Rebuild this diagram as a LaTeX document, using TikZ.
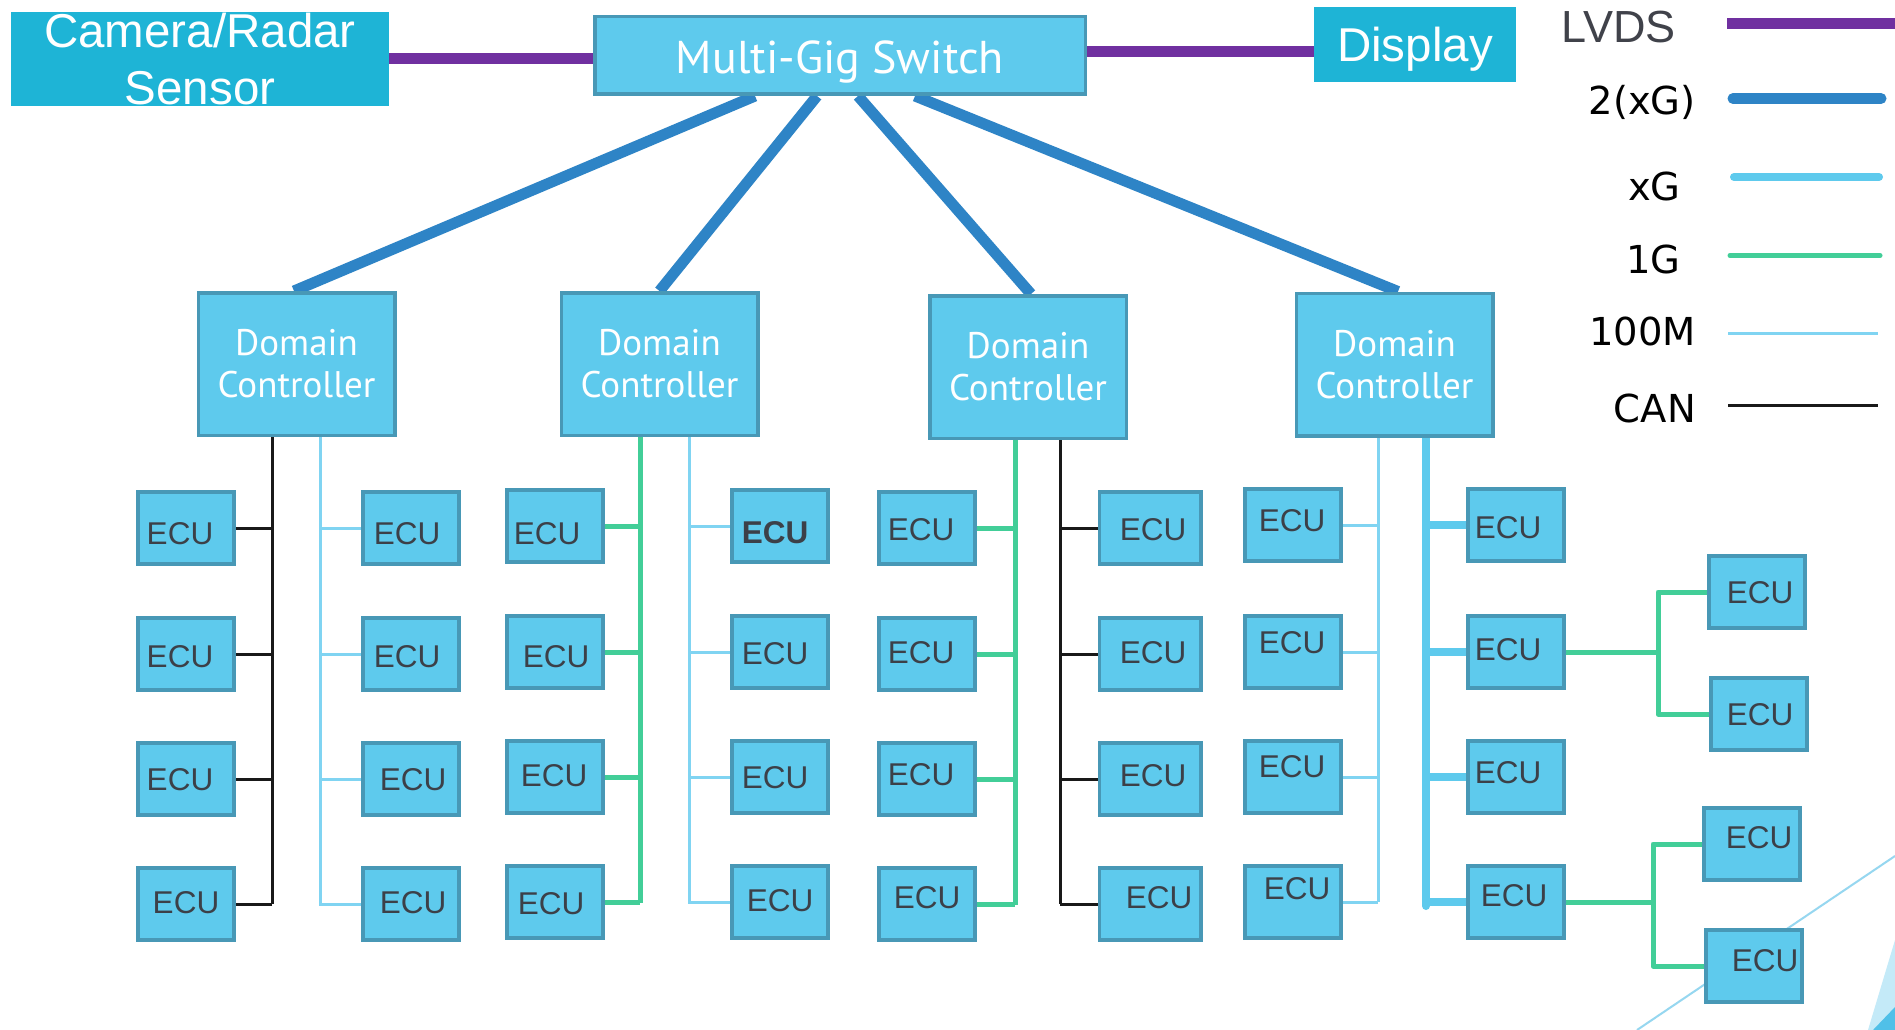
\documentclass[tikz,border=0pt]{standalone}
\usepackage{fontspec}
\setmainfont{Liberation Sans}
\newfontfamily\ptsans{PT Sans}
\newfontfamily\dvsans{DejaVu Sans}
\usetikzlibrary{calc}
\pgfdeclarelayer{bg}
\pgfsetlayers{bg,main}
\definecolor{boxfill}{RGB}{94,202,237}
\definecolor{boxline}{RGB}{72,152,182}
\definecolor{sensorfill}{RGB}{30,180,214}
\definecolor{lvdscol}{RGB}{112,48,160}
\definecolor{twoxgcol}{RGB}{46,132,198}
\definecolor{xgcol}{RGB}{94,202,237}
\definecolor{onegcol}{RGB}{66,206,152}
\definecolor{hundmcol}{RGB}{128,212,242}
\definecolor{cancol}{RGB}{25,25,25}
\definecolor{ecutext}{RGB}{60,64,72}
\definecolor{lvdstext}{RGB}{64,66,74}
\definecolor{decolight}{RGB}{196,234,248}
\definecolor{decodark}{RGB}{80,192,232}
\definecolor{decoline}{RGB}{150,215,240}
\newcommand\et[2]{\hspace*{#1pt}\raisebox{#2pt}{ECU}\hspace*{-#1pt}}
\newcommand\etb[2]{\hspace*{#1pt}\raisebox{#2pt}{\bfseries ECU}\hspace*{-#1pt}}
\begin{document}
\begin{tikzpicture}[x=1pt,y=-1pt,
  ecu/.style={rectangle, draw=boxline, line width=3.5pt, fill=boxfill,
    minimum width=96pt, minimum height=72pt, inner sep=0pt, text=ecutext,
    font=\fontsize{31.5}{36}\selectfont, text height=22.6pt, text depth=0pt},
  ecuw/.style={ecu, minimum width=101.5pt},
  dcbox/.style={rectangle, draw=boxline, line width=3.5pt, fill=boxfill,
    minimum width=196.5pt, minimum height=142.5pt, inner sep=0pt, text=white,
    align=center, font=\ptsans\fontsize{37}{42}\selectfont},
  swbox/.style={rectangle, draw=boxline, line width=3.5pt, fill=boxfill,
    minimum width=490.5pt, minimum height=77.5pt, inner sep=0pt, text=white,
    font=\ptsans\fontsize{46}{50}\selectfont, text height=32pt, text depth=0pt},
  tealbox/.style={rectangle, fill=sensorfill, draw=none, inner sep=0pt, text=white,
    align=center, font=\fontsize{47.5}{57}\selectfont},
  legtext/.style={anchor=base east, inner sep=0pt, font=\dvsans\fontsize{38.5}{44}\selectfont, text=black},
  lvdsline/.style={draw=lvdscol, line width=11pt},
  twoxgline/.style={draw=twoxgcol, line width=11pt},
  xgline/.style={draw=xgcol, line width=8pt, line cap=round},
  gline/.style={draw=onegcol, line width=5pt, line join=round},
  mline/.style={draw=hundmcol, line width=3pt},
  canline/.style={draw=cancol, line width=3pt}
]
\useasboundingbox (0,0) rectangle (1895,1030);

% top row
\node[tealbox, minimum width=378pt, minimum height=94pt] (sensor) at (200,59) {Camera/Radar\\Sensor};
\node[swbox] (sw) at (840,55.5) {\raisebox{-2pt}{Multi-Gig Switch}};
\node[tealbox, minimum width=202pt, minimum height=75pt, text height=34pt, text depth=0pt] (disp) at (1415,44.5) {Display};

% domain controllers
\node[dcbox] (dc1) at (296.5,364) {Domain\\Controller};
\node[dcbox] (dc2) at (659.5,364) {Domain\\Controller};
\node[dcbox] (dc3) at (1028,367) {Domain\\Controller};
\node[dcbox] (dc4) at (1394.5,364.5) {Domain\\Controller};

% ECUs
\node[ecu] (a1) at (186,528) {\et{-6}{-5}};
\node[ecu] (a2) at (186,654) {\et{-6}{-2}};
\node[ecu] (a3) at (186,779) {\et{-6}{0}};
\node[ecu] (a4) at (186,904) {\et{0}{2}};
\node[ecu] (b1) at (411,528) {\et{-4}{-5}};
\node[ecu] (b2) at (411,654) {\et{-4}{-2}};
\node[ecu] (b3) at (411,779) {\et{2}{0}};
\node[ecu] (b4) at (411,904) {\et{2}{2}};
\node[ecu] (c1) at (555,526) {\et{-8}{-7}};
\node[ecu] (c2) at (555,652) {\et{1}{-4}};
\node[ecu] (c3) at (555,777) {\et{-1}{2}};
\node[ecu] (c4) at (555,902) {\et{-4}{-1}};
\node[ecu] (d1) at (780,526) {\etb{-5}{-6}};
\node[ecu] (d2) at (780,652) {\et{-5}{-1}};
\node[ecu] (d3) at (780,777) {\et{-5}{0}};
\node[ecu] (d4) at (780,902) {\et{0}{2}};
\node[ecu] (e1) at (927,528) {\et{-6}{-1}};
\node[ecu] (e2) at (927,654) {\et{-6}{2}};
\node[ecu] (e3) at (927,779) {\et{-6}{5}};
\node[ecu] (e4) at (927,904) {\et{0}{7}};
\node[ecuw] (f1) at (1150,528) {\et{3}{-1}};
\node[ecuw] (f2) at (1150,654) {\et{3}{2}};
\node[ecuw] (f3) at (1150,779) {\et{3}{4}};
\node[ecuw] (f4) at (1150,904) {\et{9}{7}};
\node[ecu] (g1) at (1293,525) {\et{-1}{5}};
\node[ecu] (g2) at (1293,652) {\et{-1}{10}};
\node[ecu] (g3) at (1293,777) {\et{-1}{11}};
\node[ecu] (g4) at (1293,902) {\et{4}{14}};
\node[ecu] (h1) at (1516,525) {\et{-8}{-2}};
\node[ecu] (h2) at (1516,652) {\et{-8}{3}};
\node[ecu] (h3) at (1516,777) {\et{-8}{5}};
\node[ecu] (h4) at (1516,902) {\et{-2}{7}};
\node[ecu] (i1) at (1757,592) {\et{3}{0}};
\node[ecu] (i2) at (1759,714) {\et{1}{0}};
\node[ecu] (i3) at (1752,844) {\et{7}{7}};
\node[ecu] (i4) at (1754,966) {\et{11}{6}};

% legend
\node[legtext, font=\fontsize{45}{50}\selectfont, text=lvdstext] (tLVDS) at (1676,43) {LVDS};
\node[legtext] (t2xg) at (1696,115) {2(xG)};
\node[legtext] (txg) at (1681,200) {xG};
\node[legtext] (t1g) at (1681,273) {1G};
\node[legtext] (t100m) at (1696,345) {100M};
\node[legtext] (tcan) at (1696,422) {CAN};
\coordinate (l1a) at (1727,23.5); \coordinate (l1b) at (1895,23.5);
\coordinate (l2a) at (1733,98.5); \coordinate (l2b) at (1881,98.5);
\coordinate (l3a) at (1734,177); \coordinate (l3b) at (1879,177);
\coordinate (l4a) at (1730,255.5); \coordinate (l4b) at (1880,255.5);
\coordinate (l5a) at (1728,333); \coordinate (l5b) at (1878,333);
\coordinate (l6a) at (1728,405); \coordinate (l6b) at (1878,405);
\draw[lvdsline] (l1a) -- (l1b);
\draw[twoxgline, line cap=round] (l2a) -- (l2b);
\draw[xgline] (l3a) -- (l3b);
\draw[gline, line cap=round] (l4a) -- (l4b);
\draw[mline] (l5a) -- (l5b);
\draw[canline] (l6a) -- (l6b);

% decoration
\fill[decolight] (1868,1030) -- (1895,940) -- (1895,1030) -- cycle;
\fill[decodark] (1873,1030) -- (1895,1007) -- (1895,1030) -- cycle;

% bus end coordinates
\coordinate (bA) at (272,904);
\coordinate (bB) at (320,906);
\coordinate (bC) at (640,903);
\coordinate (bD) at (689,904);
\coordinate (bE) at (1015,905);
\coordinate (bF) at (1060,904);
\coordinate (bG) at (1378,902);
\coordinate (bH) at (1426,906);
\coordinate (br1) at (1658,652);
\coordinate (br2) at (1653,902);
\coordinate (dA) at (1637,1030);
\coordinate (dB) at (1895,856);

\begin{pgfonlayer}{bg}
\fill[white] (0,0) rectangle (1895,1030);
\draw[decoline, line width=2pt] (dA) -- (dB);
% LVDS
\draw[lvdsline] (sensor.east) -- (sensor.east -| sw.west);
\draw[lvdsline] (sw.east |- 0,52) -- (disp.west |- 0,52);
% uplinks
\draw[twoxgline] ($(sw.south)+(-85,0)$) -- ($(dc1.north)+(-2.5,0)$);
\draw[twoxgline] ($(sw.south)+(-23,0)$) -- ($(dc2.north)+(0,0)$);
\draw[twoxgline] ($(sw.south)+(18,0)$) -- ($(dc3.north)+(3,0)$);
\draw[twoxgline] ($(sw.south)+(75,0)$) -- ($(dc4.north)+(3.5,0)$);
% DC1
\draw[canline] (dc1.south -| bA) -- (bA);
\foreach \e in {a1,a2,a3,a4} \draw[canline] (\e.east) -- (\e.east -| bA);
\draw[mline] (dc1.south -| bB) -- (bB);
\foreach \e in {b1,b2,b3,b4} \draw[mline] (\e.west) -- (\e.west -| bB);
% DC2
\draw[gline] (dc2.south -| bC) -- (bC);
\foreach \e in {c1,c2,c3,c4} \draw[gline] (\e.east) -- (\e.east -| bC);
\draw[mline] (dc2.south -| bD) -- (bD);
\foreach \e in {d1,d2,d3,d4} \draw[mline] (\e.west) -- (\e.west -| bD);
% DC3
\draw[gline] (dc3.south -| bE) -- (bE);
\foreach \e in {e1,e2,e3,e4} \draw[gline] (\e.east) -- (\e.east -| bE);
\draw[canline] (dc3.south -| bF) -- (bF);
\foreach \e in {f1,f2,f3,f4} \draw[canline] (\e.west) -- (\e.west -| bF);
% DC4
\draw[mline] (dc4.south -| bG) -- (bG);
\foreach \e in {g1,g2,g3,g4} \draw[mline] (\e.east) -- (\e.east -| bG);
\draw[xgline] (dc4.south -| bH) -- (bH);
\foreach \e in {h1,h2,h3,h4} \draw[xgline] (\e.west) -- (\e.west -| bH);
% second level
\draw[gline] (h2.east) -- (br1);
\draw[gline] (i1.west) -| (br1) |- (i2.west);
\draw[gline] (h4.east) -- (br2);
\draw[gline] (i3.west) -| (br2) |- (i4.west);
\end{pgfonlayer}
\end{tikzpicture}
\end{document}
